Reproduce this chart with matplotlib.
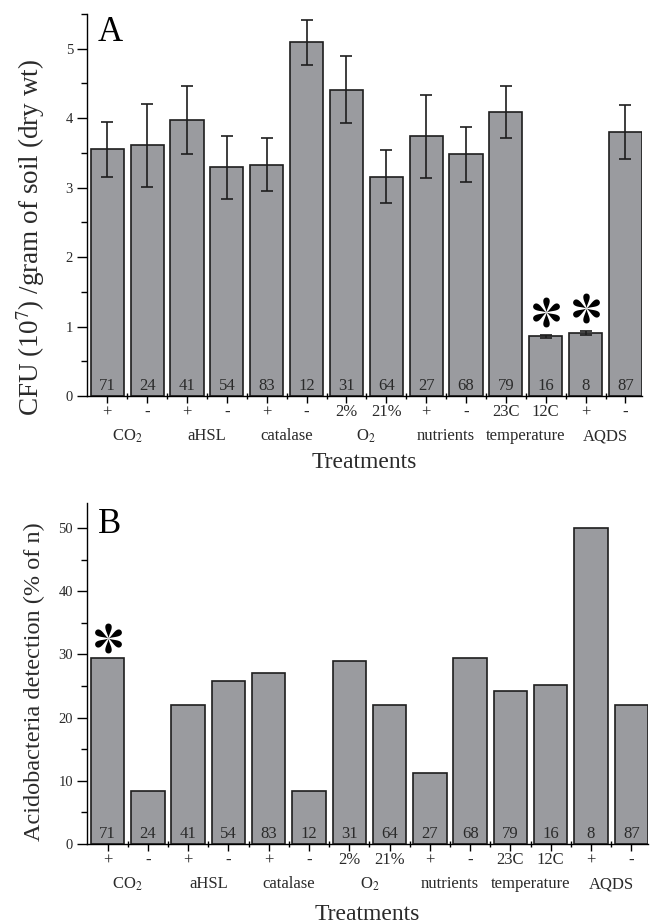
import matplotlib.pyplot as plt
import numpy as np
from matplotlib.path import Path
from matplotlib.transforms import ScaledTranslation
from matplotlib.ticker import MultipleLocator, FixedLocator

plt.rcParams["font.family"] = ["Liberation Serif", "DejaVu Serif", "DejaVu Sans"]
plt.rcParams["mathtext.fontset"] = "stix"

# --- data ---
positions = np.arange(1, 15)
n_counts = [71, 24, 41, 54, 83, 12, 31, 64, 27, 68, 79, 16, 8, 87]
levels = ["+", "-", "+", "-", "+", "-", "2%", "21%", "+", "-", "23C", "12C", "+", "-"]
groups = ["CO$_2$", "aHSL", "catalase", "O$_2$", "nutrients", "temperature", "AQDS"]

cfu = [3.55, 3.61, 3.97, 3.29, 3.33, 5.09, 4.41, 3.16, 3.74, 3.48, 4.09, 0.86, 0.91, 3.80]
cfu_err = [0.40, 0.60, 0.49, 0.45, 0.38, 0.32, 0.48, 0.38, 0.60, 0.40, 0.38, 0.02, 0.03, 0.39]
cfu_signif = [11, 12]

acido = [29.4, 8.4, 22.0, 25.8, 27.0, 8.4, 29.0, 22.0, 11.3, 29.5, 24.2, 25.1, 50.0, 22.0]
acido_signif = [0]

bar_color = "#9a9b9f"
edge_color = "#1e1e1e"
text_color = "#2a2a2a"
width = 0.83


def star_path():
    # six teardrop petals, narrow at the centre, round at the ends
    t = np.linspace(0, 2 * np.pi, 60)
    px = (1 - np.cos(t)) / 2
    py = 0.34 * np.sin(t) * np.sin(t / 2) ** 2.2
    verts, codes = [], []
    for ang in np.deg2rad([90, 30, -30, -90, -150, 150]):
        c, s = np.cos(ang), np.sin(ang)
        xs = px * c - py * s
        ys = px * s + py * c
        verts += list(zip(xs, ys)) + [(0, 0)]
        codes += [Path.MOVETO] + [Path.LINETO] * (len(t) - 1) + [Path.CLOSEPOLY]
    return Path(verts, codes)


STAR = star_path()


def draw_panel(ax, vals, err, ymax, major, minor, letter, letter_y, ylabel, ylabel_size,
               signif, star_off):
    ax.bar(positions, vals, width=width, color=bar_color, edgecolor=edge_color,
           linewidth=1.2, zorder=2)
    if err is not None:
        ax.errorbar(positions, vals, yerr=err, fmt="none", ecolor=edge_color,
                    elinewidth=1.2, capsize=4, capthick=1.2, zorder=3)

    ax.set_xlim(0.49, 14 + width / 2)
    ax.set_ylim(0, ymax)
    ax.spines["top"].set_visible(False)
    ax.spines["right"].set_visible(False)
    ax.spines["left"].set_linewidth(1.0)
    ax.spines["bottom"].set_linewidth(1.0)

    # y ticks
    ax.yaxis.set_major_locator(MultipleLocator(major))
    ax.yaxis.set_minor_locator(MultipleLocator(minor))
    ax.tick_params(axis="y", which="major", length=7, width=1, labelsize=10.5,
                   labelcolor=text_color, pad=3)
    ax.tick_params(axis="y", which="minor", length=4, width=1)

    # x ticks: treatment levels under bar centres, small ticks between bars
    ax.set_xticks(positions)
    ax.set_xticklabels(levels)
    for lab, s in zip(ax.get_xticklabels(), levels):
        if s == "-":
            lab.set_fontweight("bold")
            lab.set_fontsize(13)
    ax.xaxis.set_minor_locator(FixedLocator(positions[:-1] + 0.5))
    ax.tick_params(axis="x", which="major", length=5, width=1, labelsize=12,
                   labelcolor=text_color, pad=1)
    ax.tick_params(axis="x", which="minor", length=4, width=1, direction="inout")

    # group names below pairs of bars
    for k, g in enumerate(groups):
        xc = (positions[2 * k] + positions[2 * k + 1]) / 2
        ax.annotate(g, (xc, 0), xycoords=("data", "axes fraction"),
                    xytext=(0, -29), textcoords="offset points",
                    ha="center", va="center", fontsize=12, color=text_color)

    # n per treatment inside the bars
    for x, n in zip(positions, n_counts):
        ax.annotate(str(n), (x, 0), xytext=(0, 1.5), textcoords="offset points",
                    ha="center", va="bottom", fontsize=12, color=text_color, zorder=4)

    # significance stars
    shift = ax.transData + ScaledTranslation(0, star_off / 72, ax.figure.dpi_scale_trans)
    for i in signif:
        top = vals[i] + (err[i] if err is not None else 0)
        ax.plot([positions[i]], [top], linestyle="none", marker=STAR, markersize=21.5,
                color="black", markeredgewidth=0, transform=shift, zorder=5,
                clip_on=False)

    ax.text(0.02, letter_y, letter, transform=ax.transAxes,
            fontsize=25, ha="left", va="baseline", color="black")

    ax.set_ylabel(ylabel, fontsize=ylabel_size, color=text_color)
    ax.set_xlabel("Treatments", fontsize=17, color=text_color)


fig = plt.figure(figsize=(6.53, 9.24), dpi=100)
ax1 = fig.add_axes([87 / 653, 1 - 396 / 924, 555 / 653, 382 / 924])
ax2 = fig.add_axes([87 / 653, 1 - 844 / 924, 561 / 653, 341.3 / 924])

draw_panel(ax1, cfu, cfu_err, 5.5, 1, 0.5, "A", 0.93,
           "CFU (10$^7$) /gram of soil (dry wt)", 19.5, cfu_signif, 16.5)
draw_panel(ax2, acido, None, 54, 10, 5, "B", 0.912,
           "Acidobacteria detection (% of n)", 17.5, acido_signif, 14.7)

ax1.yaxis.set_label_coords(-0.072, 0.416)
ax2.yaxis.set_label_coords(-0.075, 0.475)
ax1.xaxis.set_label_coords(0.5, -0.146)
ax2.xaxis.set_label_coords(0.5, -0.176)

fig.savefig("out.png", dpi=100)
